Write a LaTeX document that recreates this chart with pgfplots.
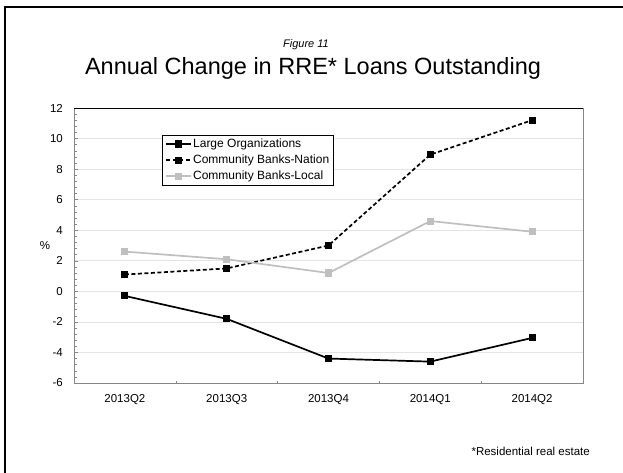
\documentclass[border=0pt]{standalone}
\usepackage{fontspec}
\setmainfont{Liberation Sans}
\usepackage{pgfplots}
\pgfplotsset{compat=1.18}
\usepackage{pgfplotstable}
\definecolor{localgray}{HTML}{BFBFBF}
\definecolor{gridgray}{HTML}{E4E4E4}
\definecolor{axgray}{HTML}{868686}

\pgfplotstableread{
x y
0 -0.3
1 -1.8
2 -4.4
3 -4.6
4 -3.05
}\large
\pgfplotstableread{
x y
0 1.1
1 1.5
2 3.0
3 8.95
4 11.2
}\nation
\pgfplotstableread{
x y
0 2.6
1 2.1
2 1.2
3 4.6
4 3.9
}\local

\begin{document}
\begin{tikzpicture}
\path[use as bounding box] (0,0) rectangle (623bp,-473bp);
\draw[line width=2bp,black] (5bp,-473bp) -- (5bp,-6.5bp) -- (623bp,-6.5bp);
\node[anchor=base,inner sep=0pt,font=\fontsize{11bp}{13bp}\selectfont\itshape] at (306bp,-47bp) {Figure 11};
\node[anchor=base,inner sep=0pt,font=\fontsize{23.5bp}{28bp}\selectfont] at (313bp,-74bp) {Annual Change in RRE* Loans Outstanding};
\node[anchor=base east,inner sep=0pt,font=\fontsize{11.5bp}{13.8bp}\selectfont] at (590bp,-455bp) {*Residential real estate};
\begin{axis}[
  at={(74bp,-383bp)}, anchor=south west,
  scale only axis, width=509bp, height=275bp,
  xmin=-0.5, xmax=4.5, ymin=-6, ymax=12,
  xtick={0,1,2,3,4},
  xticklabels={2013Q2,2013Q3,2013Q4,2014Q1,2014Q2},
  major x tick style={draw=none},
  minor xtick={0.5,1.5,2.5,3.5},
  minor x tick style={axgray},
  ytick={-6,-4,...,12},
  minor y tick num=4,
  major tick length=4bp, minor tick length=2.5bp,
  tick align=inside,
  xtick pos=bottom, ytick pos=left,
  ymajorgrids, grid style={gridgray,line width=0.6bp},
  axis line style={axgray,line width=0.9bp},
  every tick/.style={axgray},
  /pgf/number format/assume math mode=true,
  tick label style={font=\fontsize{11.5bp}{13.8bp}\selectfont,inner sep=0pt},
  yticklabel style={anchor=east,xshift=-11bp},
  xticklabel style={anchor=north,yshift=-11bp},
  ylabel={\%},
  every axis y label/.style={at={(rel axis cs:0,0.5)},anchor=center,xshift=-29bp,font=\fontsize{11.5bp}{13.8bp}\selectfont},
  legend cell align=left,
  legend style={at={(rel axis cs:0.173,0.902)},anchor=north west,draw=black,line width=0.8bp,fill=white,
    font=\fontsize{12bp}{14.4bp}\selectfont,row sep=4bp,inner xsep=3bp,inner ysep=2.5bp,
    nodes={inner sep=1bp}},
  legend image code/.code={\draw[mark repeat=2,mark phase=2,#1] plot coordinates {(0bp,0bp) (12.5bp,0bp) (25bp,0bp)};},
]
\draw[black,line width=0.9bp] (rel axis cs:0,1) -- (rel axis cs:1,1);
\addplot[black,line width=1.7bp,mark=square*,mark size=2.7bp,mark options={solid}] table[x=x,y=y] {\large};
\addlegendentry{Large Organizations}
\addplot[black,line width=1.7bp,dash pattern=on 4bp off 2.5bp,mark=square*,mark size=2.7bp,mark options={solid}] table[x=x,y=y] {\nation};
\addlegendentry{Community Banks-Nation}
\addplot[localgray,line width=1.7bp,mark=square*,mark size=2.7bp,mark options={solid,fill=localgray}] table[x=x,y=y] {\local};
\addlegendentry{Community Banks-Local}
\end{axis}
\end{tikzpicture}
\end{document}
